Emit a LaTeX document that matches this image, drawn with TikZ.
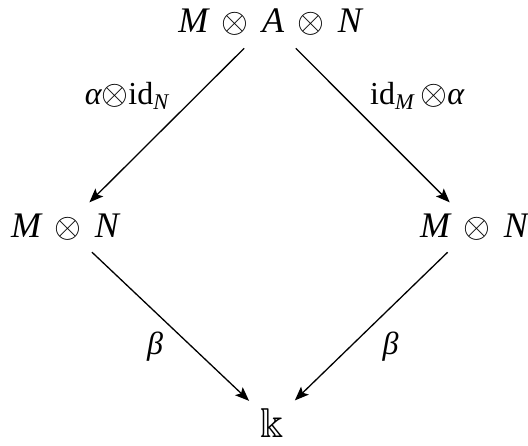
\documentclass[tikz,border=0pt]{standalone}
\usepackage{amsmath, amssymb}
\usepackage{fontspec}
\setmainfont{Liberation Serif}
\usepackage{tikz}
\usetikzlibrary{arrows.meta}
\newcommand{\vi}[1]{\text{\itshape #1}}
\newcommand{\idm}{\text{id}}
\newcommand{\otm}{\mathbin{\,\otimes\,}}
\tikzstyle{obj}   = [font=\fontsize{18}{22}\selectfont, inner sep=2pt, outer sep=0pt]
\tikzstyle{lbl}   = [font=\fontsize{16}{19}\selectfont, inner sep=3pt]
\tikzstyle{arrow} = [line width=0.65pt, -{Stealth[length=7pt, width=5.5pt, inset=1.5pt]},
                     shorten <=6pt, shorten >=5pt]

\begin{document}
\begin{tikzpicture}[x=1pt, y=1pt]
    \useasboundingbox (0,0) rectangle (264,222.5);
    \node (man) [obj, anchor=base] at (135,206)   {$\vi{M} \otm \vi{A} \otm \vi{N}$};
    \node (mnl) [obj, anchor=base] at (32.5,104)  {$\vi{M} \otm \vi{N}$};
    \node (mnr) [obj, anchor=base] at (237,104)   {$\vi{M} \otm \vi{N}$};
    \node (kk)  [obj, anchor=base, font=\fontsize{21}{24}\selectfont] at (136,4) {$\Bbbk$};

    \draw [arrow] (man) -- node [lbl, pos=.45, above left]  {$\vi{α}{\otimes}\idm_{\vi{N}}$} (mnl);
    \draw [arrow] (man) -- node [lbl, pos=.45, above right] {$\idm_{\vi{M}}\,{\otimes}\vi{α}$} (mnr);
    \draw [arrow] (mnl) -- node [lbl, below left]  {$\vi{β}$} (kk);
    \draw [arrow] (mnr) -- node [lbl, below right, xshift=2pt] {$\vi{β}$} (kk);
\end{tikzpicture}
\end{document}
